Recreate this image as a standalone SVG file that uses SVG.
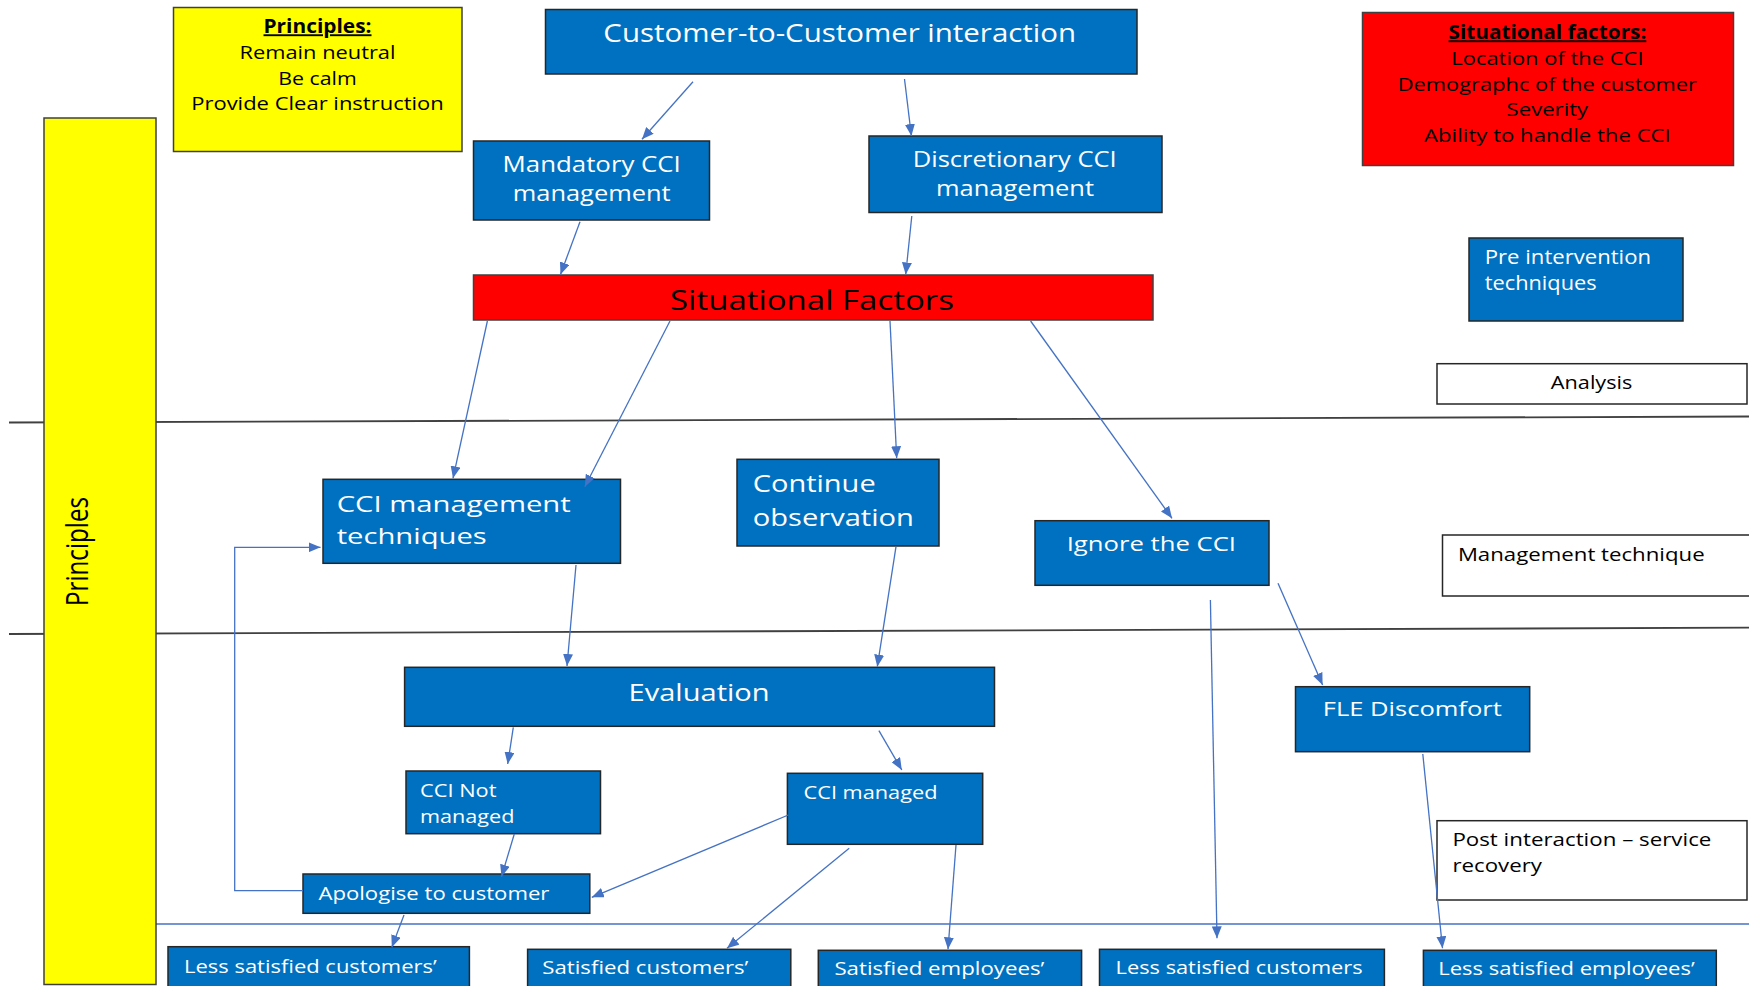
<svg xmlns="http://www.w3.org/2000/svg" width="1749" height="986" viewBox="0 0 1749 986">
<defs>
<style>
.blue{fill:#0070C0;stroke:#262626;stroke-width:1.5}
.yel{fill:#FFFF00;stroke:#404040;stroke-width:1.5}
.red{fill:#FF0000;stroke:#404040;stroke-width:1.5}
.wht{fill:#FFFFFF;stroke:#262626;stroke-width:1.5}
text{font-family:"Open Sans","Liberation Sans",sans-serif}
.tw{fill:#FFFFFF}
.tb{fill:#000000}
.c{text-anchor:middle}
.hd{font-weight:bold;text-decoration:underline}
.sep{stroke:#404040;stroke-width:1.8;fill:none}
.con{stroke:#4472C4;stroke-width:1.3;fill:none}
.arr{marker-end:url(#ah)}
</style>
<marker id="ah" viewBox="0 0 12 10" refX="12" refY="5" markerWidth="12" markerHeight="10" markerUnits="userSpaceOnUse" orient="auto"><path d="M0,0 L12,5 L0,10 z" fill="#4472C4"/></marker>
</defs>
<rect width="1749" height="986" fill="#FFFFFF"/>
<g id="separators">
<line class="sep" x1="9" y1="422.5" x2="1749" y2="416.5"/>
<line class="sep" x1="9" y1="634" x2="1749" y2="627.7"/>
<line class="con" x1="156" y1="924" x2="1749" y2="924"/>
</g>
<g id="principles-bar">
<rect class="yel" x="44" y="118" width="112" height="866.5"/>
<text class="tb c" transform="translate(88,551.5) rotate(-90)" font-size="31" textLength="109" lengthAdjust="spacingAndGlyphs">Principles</text>
</g>
<g id="principles-box">
<rect class="yel" x="173.5" y="7.5" width="288.5" height="144"/>
<text class="tb c hd" x="317.5" y="33.3" font-size="18.7" textLength="108" lengthAdjust="spacingAndGlyphs">Principles:</text>
<text class="tb c" x="317.5" y="59.3" font-size="18.7" textLength="156" lengthAdjust="spacingAndGlyphs">Remain neutral</text>
<text class="tb c" x="317.5" y="85" font-size="18.7" textLength="78.5" lengthAdjust="spacingAndGlyphs">Be calm</text>
<text class="tb c" x="317.5" y="110" font-size="18.7" textLength="252.6" lengthAdjust="spacingAndGlyphs">Provide Clear instruction</text>
</g>
<g id="c2c">
<rect class="blue" x="545.5" y="9.5" width="591.5" height="64.5"/>
<text class="tw c" x="839.7" y="41.7" font-size="25.6" textLength="472.7" lengthAdjust="spacingAndGlyphs">Customer-to-Customer interaction</text>
</g>
<g id="mandatory">
<rect class="blue" x="473.5" y="141" width="236" height="79"/>
<text class="tw c" x="591.7" y="171.7" font-size="21.5" textLength="178.3" lengthAdjust="spacingAndGlyphs">Mandatory CCI</text>
<text class="tw c" x="591.7" y="200.7" font-size="21.5" textLength="157.8" lengthAdjust="spacingAndGlyphs">management</text>
</g>
<g id="discretionary">
<rect class="blue" x="869" y="136" width="293" height="76.5"/>
<text class="tw c" x="1014.7" y="166.7" font-size="22" textLength="204" lengthAdjust="spacingAndGlyphs">Discretionary CCI</text>
<text class="tw c" x="1015" y="196" font-size="22" textLength="158" lengthAdjust="spacingAndGlyphs">management</text>
</g>
<g id="situational-bar">
<rect class="red" x="473.5" y="275" width="679.5" height="45"/>
<text class="tb" x="670" y="310.3" font-size="27" textLength="284" lengthAdjust="spacingAndGlyphs">Situational Factors</text>
</g>
<g id="situational-box">
<rect class="red" x="1362.5" y="12.5" width="371" height="153"/>
<text class="tb c hd" x="1547.4" y="39.3" font-size="18.7" textLength="197.8" lengthAdjust="spacingAndGlyphs">Situational factors:</text>
<text class="tb c" x="1547.4" y="65" font-size="18.7" textLength="192.3" lengthAdjust="spacingAndGlyphs">Location of the CCI</text>
<text class="tb c" x="1547.4" y="90.7" font-size="18.7" textLength="299.3" lengthAdjust="spacingAndGlyphs">Demographc of the customer</text>
<text class="tb c" x="1547.4" y="116" font-size="18.7" textLength="81.6" lengthAdjust="spacingAndGlyphs">Severity</text>
<text class="tb c" x="1547.4" y="141.7" font-size="18.7" textLength="246.7" lengthAdjust="spacingAndGlyphs">Ability to handle the CCI</text>
</g>
<g id="pre-intervention">
<rect class="blue" x="1469" y="238" width="214" height="83"/>
<text class="tw" x="1484.8" y="264.3" font-size="20" textLength="166.2" lengthAdjust="spacingAndGlyphs">Pre intervention</text>
<text class="tw" x="1484.8" y="290" font-size="20" textLength="111.8" lengthAdjust="spacingAndGlyphs">techniques</text>
</g>
<g id="analysis">
<rect class="wht" x="1437" y="363.7" width="310" height="40.3"/>
<text class="tb c" x="1591.6" y="389" font-size="18.7" textLength="81.6" lengthAdjust="spacingAndGlyphs">Analysis</text>
</g>
<g id="cci-techniques">
<rect class="blue" x="323" y="479.3" width="297.5" height="84"/>
<text class="tw" x="336.7" y="511.7" font-size="22" textLength="234" lengthAdjust="spacingAndGlyphs">CCI management</text>
<text class="tw" x="336.7" y="544" font-size="22" textLength="150" lengthAdjust="spacingAndGlyphs">techniques</text>
</g>
<g id="continue-observation">
<rect class="blue" x="737" y="459.3" width="202" height="86.7"/>
<text class="tw" x="752.7" y="491.7" font-size="23.3" textLength="123" lengthAdjust="spacingAndGlyphs">Continue</text>
<text class="tw" x="752.7" y="526" font-size="23.3" textLength="161.3" lengthAdjust="spacingAndGlyphs">observation</text>
</g>
<g id="ignore">
<rect class="blue" x="1035" y="520.7" width="234" height="64.6"/>
<text class="tw" x="1066.7" y="550.7" font-size="20.6" textLength="169.3" lengthAdjust="spacingAndGlyphs">Ignore the CCI</text>
</g>
<g id="management-technique">
<rect class="wht" x="1442.5" y="535" width="312" height="61"/>
<text class="tb" x="1457.9" y="560.5" font-size="18.7" textLength="246.8" lengthAdjust="spacingAndGlyphs">Management technique</text>
</g>
<g id="evaluation">
<rect class="blue" x="404.6" y="667.3" width="589.9" height="59"/>
<text class="tw" x="628.6" y="700.7" font-size="23.3" textLength="141" lengthAdjust="spacingAndGlyphs">Evaluation</text>
</g>
<g id="fle-discomfort">
<rect class="blue" x="1295.5" y="686.7" width="234.2" height="65"/>
<text class="tw c" x="1412.3" y="716" font-size="20" textLength="179" lengthAdjust="spacingAndGlyphs">FLE Discomfort</text>
</g>
<g id="cci-not-managed">
<rect class="blue" x="406" y="771" width="194.5" height="62.7"/>
<text class="tw" x="420" y="796.7" font-size="17.8" textLength="76.5" lengthAdjust="spacingAndGlyphs">CCI Not</text>
<text class="tw" x="420" y="822.7" font-size="17.8" textLength="94.4" lengthAdjust="spacingAndGlyphs">managed</text>
</g>
<g id="cci-managed">
<rect class="blue" x="787.4" y="773.3" width="195.3" height="71"/>
<text class="tw" x="803.5" y="799.3" font-size="17.8" textLength="134" lengthAdjust="spacingAndGlyphs">CCI managed</text>
</g>
<g id="post-interaction">
<rect class="wht" x="1437" y="820.7" width="310" height="79.3"/>
<text class="tb" x="1452.4" y="846" font-size="18.7" textLength="259" lengthAdjust="spacingAndGlyphs">Post interaction – service</text>
<text class="tb" x="1452.4" y="871.7" font-size="18.7" textLength="89.6" lengthAdjust="spacingAndGlyphs">recovery</text>
</g>
<g id="apologise">
<rect class="blue" x="303" y="874" width="286.8" height="39.3"/>
<text class="tw" x="318.4" y="900" font-size="17.8" textLength="231" lengthAdjust="spacingAndGlyphs">Apologise to customer</text>
</g>
<g id="less-satisfied-customers-apos">
<rect class="blue" x="168" y="946.7" width="301.4" height="50"/>
<text class="tw" x="184" y="973.3" font-size="17.8" textLength="252.7" lengthAdjust="spacingAndGlyphs">Less satisfied customers’</text>
</g>
<g id="satisfied-customers">
<rect class="blue" x="527.6" y="949.3" width="263.2" height="50"/>
<text class="tw" x="542.3" y="974.3" font-size="17.8" textLength="206" lengthAdjust="spacingAndGlyphs">Satisfied customers’</text>
</g>
<g id="satisfied-employees">
<rect class="blue" x="818.3" y="950.3" width="263.3" height="50"/>
<text class="tw" x="834.4" y="975" font-size="17.8" textLength="210" lengthAdjust="spacingAndGlyphs">Satisfied employees’</text>
</g>
<g id="less-satisfied-customers">
<rect class="blue" x="1099.5" y="949.3" width="284.9" height="50"/>
<text class="tw" x="1115.6" y="974" font-size="17.8" textLength="247" lengthAdjust="spacingAndGlyphs">Less satisfied customers</text>
</g>
<g id="less-satisfied-employees">
<rect class="blue" x="1423.4" y="950.3" width="292.9" height="50"/>
<text class="tw" x="1438.2" y="975.3" font-size="17.8" textLength="256.5" lengthAdjust="spacingAndGlyphs">Less satisfied employees’</text>
</g>
<g id="connectors">
<line class="con arr" x1="693" y1="81.7" x2="642" y2="139.3"/>
<line class="con arr" x1="904.5" y1="79" x2="911.4" y2="136"/>
<line class="con arr" x1="580" y1="221.7" x2="560.5" y2="274.5"/>
<line class="con arr" x1="911.8" y1="216" x2="905.7" y2="274.5"/>
<line class="con arr" x1="487.4" y1="321" x2="453" y2="478.3"/>
<line class="con arr" x1="670" y1="321" x2="584.8" y2="486.7"/>
<line class="con arr" x1="890" y1="321" x2="896.7" y2="458.3"/>
<line class="con arr" x1="1030.6" y1="321" x2="1172" y2="518.3"/>
<line class="con arr" x1="576" y1="565" x2="567" y2="666"/>
<line class="con arr" x1="896" y1="546.7" x2="877.3" y2="666.7"/>
<line class="con arr" x1="1278" y1="583.3" x2="1322.6" y2="685"/>
<line class="con arr" x1="1210.4" y1="600" x2="1217" y2="938.3"/>
<line class="con arr" x1="1422.8" y1="754" x2="1442.5" y2="948.3"/>
<line class="con arr" x1="513.3" y1="727.3" x2="507.7" y2="764"/>
<line class="con arr" x1="878.9" y1="730.7" x2="901.8" y2="770"/>
<line class="con arr" x1="514.3" y1="834" x2="501.5" y2="876.7"/>
<line class="con arr" x1="788.3" y1="815" x2="591.8" y2="897.3"/>
<line class="con arr" x1="849.2" y1="848.3" x2="727" y2="948.3"/>
<line class="con arr" x1="956" y1="845" x2="948" y2="949.3"/>
<line class="con arr" x1="404" y1="915" x2="391.8" y2="947.3"/>
<polyline class="con arr" points="303,890.7 234.7,890.7 234.7,547.3 320.5,547.3"/>
</g>
</svg>
